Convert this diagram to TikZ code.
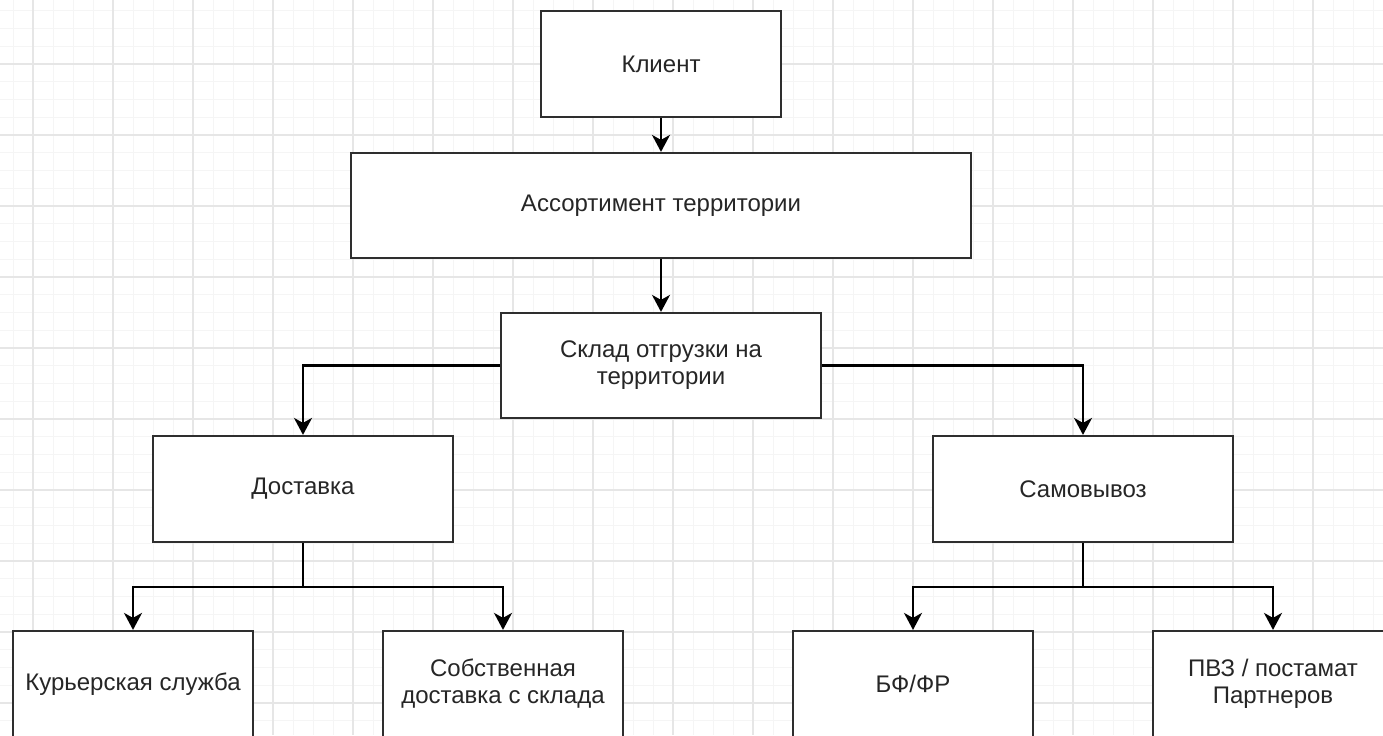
\documentclass[tikz,border=0pt]{standalone}
\usepackage{fontspec}
\setmainfont{Liberation Sans}
\usetikzlibrary{arrows.meta}
\definecolor{gridminor}{HTML}{F5F5F5}
\definecolor{gridmajor}{HTML}{E6E6E6}
\definecolor{boxline}{HTML}{2E2E2E}
\definecolor{txt}{HTML}{262626}
\tikzset{
  box/.style={draw=boxline, line width=1.1pt, fill=white, rectangle, inner sep=2pt,
    align=center, text=txt, font=\fontsize{12}{13.5}\selectfont},
  smallbox/.style={box, minimum width=120pt, minimum height=53pt},
  conn/.style={draw=black, line width=1.1pt, -{Stealth[length=8.5pt,width=9pt,inset=2.5pt]}},
  plainconn/.style={draw=black, line width=1.1pt}
}
\begin{document}
\begin{tikzpicture}[x=0.5pt,y=-0.5pt]
\useasboundingbox (0,0) rectangle (1383,735);
\begin{scope}
\clip (0,0) rectangle (1383,735);
\foreach \k in {0,...,69} \draw[gridminor, line width=0.5pt] ({13+20*\k},0) -- ({13+20*\k},735);
\foreach \k in {-3,...,37} \draw[gridminor, line width=0.5pt] (0,{64+17.75*\k}) -- (1383,{64+17.75*\k});
\foreach \k in {0,...,16} \draw[gridmajor, line width=0.6pt] ({33+80*\k},0) -- ({33+80*\k},735);
\foreach \k in {-1,...,9} \draw[gridmajor, line width=0.6pt] (0,{64+71*\k}) -- (1383,{64+71*\k});
\end{scope}

\node[box, minimum width=120pt, minimum height=53pt] (klient) at (661,64) {Клиент};
\node[box, minimum width=310pt, minimum height=52.5pt] (assort) at (661,205.5) {Ассортимент территории};
\node[box, minimum width=160pt, minimum height=52.5pt] (sklad) at (661,365.5) {Склад отгрузки на\\территории};
\node[box, minimum width=150pt, minimum height=53pt] (dost) at (303,489) {Доставка};
\node[box, minimum width=150pt, minimum height=53pt] (samo) at (1083,489) {Самовывоз};
\node[smallbox] (kur) at (133,684) {Курьерская служба};
\node[smallbox] (sobst) at (503,684) {Собственная\\доставка с склада};
\node[smallbox] (bf) at (913,684) {БФ/ФР};
\node[smallbox] (pvz) at (1273,684) {ПВЗ / постамат\\Партнеров};

\coordinate (dj) at (303,587);
\coordinate (sj) at (1083,587);

\draw[conn] (klient.south) -- (assort.north);
\draw[conn] (assort.south) -- (sklad.north);
\draw[conn] (sklad.west) -| (dost.north);
\draw[conn] (sklad.east) -| (samo.north);
\draw[plainconn] (dost.south) -- (dj);
\draw[conn] (dj) -| (kur.north);
\draw[conn] (dj) -| (sobst.north);
\draw[plainconn] (samo.south) -- (sj);
\draw[conn] (sj) -| (bf.north);
\draw[conn] (sj) -| (pvz.north);
\end{tikzpicture}
\end{document}
